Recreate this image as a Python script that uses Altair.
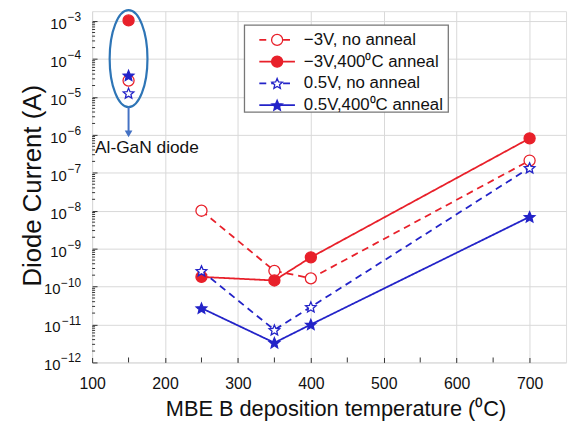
import math
import altair as alt
import pandas as pd

# ---------------- data ----------------
temps = [150, 250, 350, 400, 700]
series = ["−3V, no anneal", "−3V,400⁰C anneal", "0.5V, no anneal", "0.5V,400⁰C anneal"]
neg3v_no_anneal = [2.7e-5, 1.0e-8, 2.6e-10, 1.65e-10, 2.1e-7]
neg3v_anneal = [1.04e-3, 1.8e-10, 1.45e-10, 5.9e-10, 8.1e-7]
p05v_no_anneal = [1.26e-5, 2.6e-10, 7.2e-12, 2.9e-11, 1.35e-7]
p05v_anneal = [3.7e-5, 2.7e-11, 3.3e-12, 1.0e-11, 6.9e-9]

x_ticks = [100, 200, 300, 400, 500, 600, 700]
x_minor_ticks = [150, 250, 350, 450, 550, 650]
y_exponents = [-12, -11, -10, -9, -8, -7, -6, -5, -4, -3]
y_exponent_text = ["−12", "−11", "−10", "−9", "−8", "−7", "−6", "−5", "−4", "−3"]
y_label_base = "10"
x_title = "MBE B deposition temperature (⁰C)"
y_title = "Diode Current (A)"
annotation_label = "Al-GaN diode"

# annotation anchor points (data units)
ellipse_center = {"temp": 150, "current": 1.02e-4}
arrow_start = 5.4e-6
arrow_end = 1.06e-6
label_anchor = {"temp": 104, "current": 4.6e-7}

# ---------------- styles ----------------
RED = "#e8202a"
BLUE = "#2323c8"
ELLIPSE = "#2e75b6"
ARROW = "#4472c4"
FONT = "Liberation Sans"


def star_path(inner=0.45):
    pts = []
    for i in range(10):
        r = 1.0 if i % 2 == 0 else inner
        a = math.radians(-90 + 36 * i)
        pts.append(f"{r*math.cos(a):.4f},{r*math.sin(a) + 0.095:.4f}")
    return "M" + " L".join(pts) + " Z"


STAR = star_path()
stroke_range = [RED, RED, BLUE, BLUE]
fill_range = ["white", RED, "white", BLUE]
shape_range = ["circle", "circle", STAR, STAR]
dash_range = [[7, 5], [1, 0], [7, 5], [1, 0]]
size_range = [125, 125, 190, 190]

W, H = 479, 355
y_top = 10 ** (-3 + 10 / 38.33)

rows = []
for name, vals in zip(series, [neg3v_no_anneal, neg3v_anneal, p05v_no_anneal, p05v_anneal]):
    for t, v in zip(temps, vals):
        rows.append({"series": name, "temp": t, "current": v})
df = pd.DataFrame(rows)

xscale = alt.Scale(domain=[100, 750], nice=False, zero=False)
yscale = alt.Scale(type="log", domain=[1e-12, y_top], nice=False)

x_axis = alt.Axis(
    values=x_ticks, title=x_title, grid=True, gridColor="#d9d9d9", gridWidth=1, orient="bottom",
    domain=False, tickSize=5, offset=-5, tickColor="#333", labelPadding=13, labelFlush=False,
    labelFontSize=16, labelColor="#111", titleFontSize=22, titleFontWeight="normal",
    titleColor="#111", titlePadding=8, labelFont=FONT, titleFont=FONT, titleX=246)
y_axis = alt.Axis(
    values=[10.0 ** e for e in y_exponents], labels=False, title=y_title, orient="left",
    grid=True, gridColor="#d9d9d9", gridWidth=1, domain=False, tickSize=5, offset=-5,
    tickColor="#333", titleFontSize=26, titleFontWeight="normal", titleColor="#111",
    titleFont=FONT, titleX=-65, titleY=176, titleAngle=270, titleAlign="center",
    titleBaseline="middle")

color_scale = alt.Scale(domain=series, range=stroke_range)
fill_scale = alt.Scale(domain=series, range=fill_range)
shape_scale = alt.Scale(domain=series, range=shape_range)
dash_scale = alt.Scale(domain=series, range=dash_range)
size_scale = alt.Scale(domain=series, range=size_range)

X = alt.X("temp:Q", scale=xscale, axis=x_axis)
Y = alt.Y("current:Q", scale=yscale, axis=y_axis)

base = alt.Chart(df)

lines = base.transform_filter("datum.temp > 150").mark_line(strokeWidth=1.8).encode(
    x=X, y=Y,
    color=alt.Color("series:N", scale=color_scale, legend=None),
    strokeDash=alt.StrokeDash("series:N", scale=dash_scale, legend=None),
    detail="series:N",
)

points = base.mark_point(filled=True, opacity=1, strokeWidth=1.3).encode(
    x=X, y=Y,
    shape=alt.Shape("series:N", scale=shape_scale, legend=None),
    fill=alt.Fill("series:N", scale=fill_scale, legend=None),
    stroke=alt.Stroke("series:N", scale=color_scale, legend=None),
    size=alt.Size("series:N", scale=size_scale, legend=None),
)

# y tick labels as "10" + superscript exponent
ylab = pd.DataFrame({"current": [10.0 ** e for e in y_exponents], "exp": y_exponent_text,
                     "base": [y_label_base] * len(y_exponents),
                     "two": [len(s) > 2 for s in y_exponent_text]})
ylab_base = alt.Chart(ylab)
exp_text = ylab_base.mark_text(align="right", baseline="middle", fontSize=12, font=FONT,
                               color="#111", dy=-4).encode(
    x=alt.value(-11), y=Y, text="exp:N")
base_one = ylab_base.transform_filter("!datum.two").mark_text(
    align="right", baseline="middle", fontSize=15, font=FONT, color="#111", dy=3).encode(
    x=alt.value(-25.5), y=Y, text="base:N")
base_two = ylab_base.transform_filter("datum.two").mark_text(
    align="right", baseline="middle", fontSize=15, font=FONT, color="#111", dy=3).encode(
    x=alt.value(-32), y=Y, text="base:N")

# minor ticks (drawn inward)
y_minor = pd.DataFrame({"current": [m * 10.0 ** e for e in y_exponents for m in range(2, 10)
                                    if m * 10.0 ** e < y_top]})
y_minor_ticks = alt.Chart(y_minor).mark_rule(color="#333", strokeWidth=1).encode(
    y=Y, x=alt.value(0), x2=alt.value(3))
x_minor = pd.DataFrame({"temp": x_minor_ticks})
x_minor_ticks_layer = alt.Chart(x_minor).mark_rule(color="#333", strokeWidth=1).encode(
    x=X, y=alt.value(H), y2=alt.value(H - 5))

# annotation: ellipse, arrow, label
k = 0.5523
rx = 0.39
ellipse_path = (f"M0,-1 C{k*rx:.4f},-1 {rx},{-k:.4f} {rx},0 C{rx},{k:.4f} {k*rx:.4f},1 0,1 "
                f"C{-k*rx:.4f},1 {-rx},{k:.4f} {-rx},0 C{-rx},{-k:.4f} {-k*rx:.4f},-1 0,-1 Z")
ann_df = pd.DataFrame([ellipse_center])
ellipse = alt.Chart(ann_df).mark_point(shape=ellipse_path, size=98 * 98, filled=False,
                                       stroke=ELLIPSE, strokeWidth=2.2, opacity=1).encode(
    x=X, y=Y)
arrow_df = pd.DataFrame({"temp": [150], "current": [arrow_start], "current2": [arrow_end]})
arrow = alt.Chart(arrow_df).mark_rule(color=ARROW, strokeWidth=2).encode(
    x=X, y=Y, y2="current2:Q")
head_df = pd.DataFrame({"temp": [150], "current": [arrow_end]})
arrow_head = alt.Chart(head_df).mark_point(shape="triangle-down", filled=True, size=60,
                                           color=ARROW, opacity=1).encode(x=X, y=Y)
label_df = pd.DataFrame([{**label_anchor, "text": annotation_label}])
label = alt.Chart(label_df).mark_text(align="left", baseline="middle", fontSize=17.5,
                                      font=FONT, color="#111").encode(x=X, y=Y, text="text:N")

# manual legend (pixel layout, one layer group per row)
leg_box = alt.Chart(pd.DataFrame({"a": [0]})).mark_rect(fill="white", stroke="#777",
                                                       strokeWidth=1.3).encode(
    x=alt.value(154), x2=alt.value(360), y=alt.value(14), y2=alt.value(102))
legend_layers = [leg_box]
for i, name in enumerate(series):
    ly = 29 + 22 * i
    row_df = pd.DataFrame({"series": [name]})
    rb = alt.Chart(row_df)
    legend_layers.append(rb.mark_rule(strokeWidth=1.8).encode(
        x=alt.value(169), x2=alt.value(205), y=alt.value(ly),
        color=alt.Color("series:N", scale=color_scale, legend=None),
        strokeDash=alt.StrokeDash("series:N", scale=dash_scale, legend=None)))
    legend_layers.append(rb.mark_point(filled=True, opacity=1, strokeWidth=1.3).encode(
        x=alt.value(187), y=alt.value(ly),
        shape=alt.Shape("series:N", scale=shape_scale, legend=None),
        fill=alt.Fill("series:N", scale=fill_scale, legend=None),
        stroke=alt.Stroke("series:N", scale=color_scale, legend=None),
        size=alt.Size("series:N", scale=size_scale, legend=None)))
    legend_layers.append(rb.mark_text(align="left", baseline="middle", fontSize=17, font=FONT,
                                      color="#111").encode(
        x=alt.value(214), y=alt.value(ly), text="series:N"))

chart = alt.layer(
    lines, y_minor_ticks, x_minor_ticks_layer, points, ellipse, arrow, arrow_head, label,
    exp_text, base_one, base_two,
    *legend_layers,
).properties(
    width=W, height=H,
    autosize=alt.AutoSizeParams(type="none"),
    padding={"left": 85, "top": 1, "right": 5, "bottom": 60},
).configure_view(stroke="#555", strokeWidth=1.5).configure(background="white")

chart.save("out.html", embed_options={"renderer": "svg", "actions": False})
